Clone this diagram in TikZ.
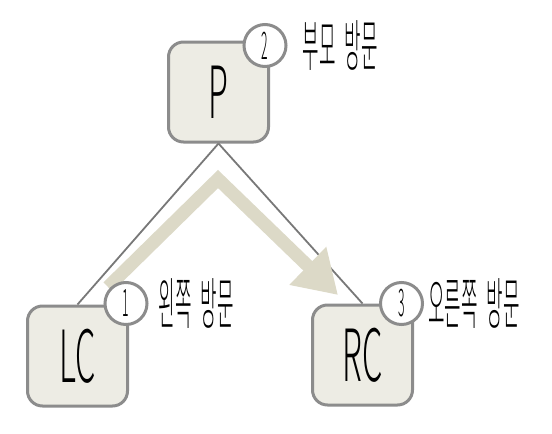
\documentclass[tikz,border=0pt]{standalone}
\usepackage{fontspec}
\newfontfamily\thinfont{Noto Sans CJK KR Light}[FakeStretch=0.45]
\newfontfamily\narrowfont{Noto Sans CJK KR Light}[FakeStretch=0.32]
\usetikzlibrary{arrows.meta,positioning}
\definecolor{boxfill}{HTML}{EDECE4}
\definecolor{boxline}{HTML}{8C8C8C}
\definecolor{edgeline}{HTML}{787878}
\definecolor{pathtan}{HTML}{DCD9C7}
\newcommand\gap{\hspace{9pt}}

\begin{document}
\begin{tikzpicture}[x=1pt, y=-1pt,
  treenode/.style={draw=boxline, fill=boxfill, line width=3pt, rounded corners=15pt,
    minimum size=100pt, inner sep=0pt, font=\thinfont\fontsize{72}{72}\selectfont},
  order/.style={circle, draw=boxline, fill=white, line width=3pt, minimum size=42pt,
    inner sep=0pt, font=\narrowfont\fontsize{38}{38}\selectfont},
  visit/.style={inner sep=0pt, font=\narrowfont\fontsize{56}{56}\selectfont},
  edge/.style={draw=edgeline, line width=1.8pt}]
\useasboundingbox (0,0) rectangle (552,434);
% tree
\node[treenode] (P) at (218.5,92) {P};
\node[treenode] (LC) at (77.5,356) {LC};
\node[treenode] (RC) at (362.5,355) {RC};
\draw[edge] (P.south) -- (LC.north);
\draw[edge] (P.south) -- (RC.north);
% visiting path
\coordinate (start) at (108,287);
\coordinate (turn) at (218,179);
\coordinate (stop) at (338,295);
\draw[pathtan, line width=13pt, -{Triangle[length=42pt,width=50pt]}] (start) -- (turn) -- (stop);
% order marks
\node[order] (n1) at ([shift={(-3,-1)}]LC.north east) {1};
\node[order] (n2) at ([shift={(-5,5)}]P.north east) {2};
\node[order] (n3) at ([shift={(-12.5,0)}]RC.north east) {3};
\node[visit, right=10pt of n1] (t1) {왼쪽\gap 방문};
\node[visit, right=15pt of n2] (t2) {부모\gap 방문};
\node[visit, right=4pt of n3] (t3) {오른쪽\gap 방문};
\end{tikzpicture}
\end{document}
